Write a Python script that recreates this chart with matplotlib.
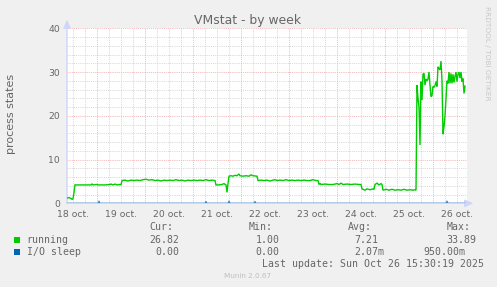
import matplotlib
matplotlib.use("Agg")
import matplotlib.pyplot as plt
from matplotlib.patches import Rectangle

# ---------------- data ----------------
title = "VMstat - by week"
ylabel = "process states"
day_labels = ["18 oct.", "19 oct.", "20 oct.", "21 oct.", "22 oct.",
              "23 oct.", "24 oct.", "25 oct.", "26 oct."]
y_ticks = [0, 10, 20, 30, 40]

# hours since 2025-10-18 00:00
hours = [9, 10, 11, 11.5, 12, 12.5, 13, 15.5, 18, 21, 21.5, 22, 24, 24.5, 28, 30.5, 31, 32, 33, 34,
         35.5, 36, 36.5, 38, 39.5, 41, 42.5, 44, 45.5, 47, 48.5, 50, 51.5, 53, 54.5, 56, 57.5, 59,
         60.5, 62, 63.5, 65, 66.5, 68, 69.5, 71, 72.5, 74, 75.5, 77, 78.5, 80, 81.5, 83, 83.5, 85,
         86.5, 87.5, 88.5, 89, 89.5, 90, 91, 92, 93, 94, 95, 95.5, 97, 98.5, 100, 101, 102, 104,
         104.5, 106, 107.5, 109, 110.5, 112, 113, 114, 115.5, 117, 118.5, 120, 121.5, 123, 124.5,
         126, 127.5, 129, 130.5, 132, 133.5, 134.5, 135, 135.5, 136, 138, 140, 142, 144, 145, 146,
         147, 149, 151, 153, 155, 156, 156.5, 158, 159, 160.5, 162, 162.5, 163, 164, 165, 166,
         166.5, 167, 168.5, 170, 171.5, 173, 174.5, 176, 177.5, 179, 180.5, 182, 183, 183.5,
         184, 184.5, 185, 185.5, 186, 186.5, 187, 187.5, 188, 188.5, 189, 189.5, 190, 190.5, 191,
         191.5, 192, 192.5, 193, 193.5, 194, 194.5, 195, 195.5, 196, 196.5, 197, 197.5, 198,
         198.5, 199, 199.5, 200, 200.5, 201, 201.5, 202, 202.5, 203, 203.5, 204, 204.5, 205,
         205.5, 206, 206.5, 207, 207.5, 208]
running = [1.2, 1.3, 1.1, 0.9, 1.0, 2.5, 4.2, 4.2, 4.2, 4.2, 4.4, 4.2, 4.3, 4.2, 4.2, 4.3, 4.4, 4.2,
           4.4, 4.2, 4.3, 4.2, 5.2, 5.3, 5.1, 5.3, 5.2, 5.3, 5.2, 5.4, 5.5, 5.3, 5.4, 5.2, 5.3, 5.1,
           5.3, 5.2, 5.3, 5.2, 5.4, 5.2, 5.3, 5.1, 5.3, 5.2, 5.3, 5.2, 5.3, 5.2, 5.4, 5.2, 5.3, 5.2,
           4.2, 4.2, 4.3, 4.5, 4.2, 2.5, 4.5, 6.2, 6.3, 6.2, 6.4, 6.3, 6.7, 6.3, 6.2, 6.3, 6.2, 6.5,
           6.3, 6.2, 5.2, 5.3, 5.2, 5.3, 5.1, 5.3, 5.4, 5.2, 5.3, 5.2, 5.4, 5.2, 5.3, 5.2, 5.3, 5.2,
           5.3, 5.2, 5.2, 5.4, 5.2, 5.2, 4.3, 4.6, 4.3, 4.4, 4.3, 4.3, 4.5, 4.3, 4.6, 4.3, 4.4, 4.3,
           4.4, 4.3, 4.3, 3.3, 3.0, 3.3, 3.1, 3.3, 3.2, 4.3, 4.6, 4.2, 4.5, 4.3, 3.0, 3.2, 3.0, 3.2,
           3.0, 3.1, 3.0, 3.2, 3.0, 3.1, 3.0, 3.1, 3.0,
           27.0, 24.0, 22.0, 13.3, 27.8, 23.6, 29.5, 29.7, 27.0, 28.4, 28.0, 28.4, 30.0, 27.0, 24.4,
           24.6, 26.7, 26.5, 26.9, 27.8, 26.7, 31.2, 30.8, 30.5, 32.5, 28.0, 15.8, 17.5, 20.0,
           24.0, 28.0, 27.4, 30.0, 27.4, 29.7, 27.4, 29.5, 27.6, 29.0, 30.0, 27.8, 29.5, 30.0,
           28.6, 30.0, 27.8, 28.5, 25.1, 26.8]

io_hours = [9, 24.5, 25, 25.5, 78, 78.5, 79, 89.5, 90, 90.5, 102.5, 103, 103.5, 198.5, 199, 199.5, 208]
io_sleep = [0, 0, 0.5, 0, 0, 0.4, 0, 0, 0.5, 0, 0, 0.4, 0, 0, 0.5, 0, 0]

series_names = ["running", "I/O sleep"]
series_colors = ["#00CC00", "#0066B3"]
col_headers = ["Cur:", "Min:", "Avg:", "Max:"]
cur_vals = ["26.82", "0.00"]
min_vals = ["1.00", "0.00"]
avg_vals = ["7.21", "2.07m"]
max_vals = ["33.89", "950.00m"]
last_update = "Last update: Sun Oct 26 15:30:19 2025"
version = "Munin 2.0.67"
side_text = "RRDTOOL / TOBI OETIKER"

# ---------------- layout ----------------
W, H, DPI = 497, 287, 100
FONT = "#666666"
fig = plt.figure(figsize=(W / DPI, H / DPI), dpi=DPI, facecolor="#F0F0F0")

x0, x1, ytop, ybot = 67, 467, 28.3, 203.3
ax = fig.add_axes([x0 / W, 1 - ybot / H, (x1 - x0) / W, (ybot - ytop) / H])
ax.set_facecolor("white")
ax.set_xlim(9, 209)
ax.set_ylim(0, 40)
for s in ax.spines.values():
    s.set_visible(False)

grid_gray = "#cfcfcf"
grid_red = "#f0a8a8"
dots = (0, (1.4, 1.4))
# minor grid
for h in range(12, 209, 6):
    if h % 24:
        ax.axvline(h, color=grid_gray, lw=0.55, ls=dots, zorder=1)
for v in range(2, 40, 2):
    if v % 10:
        ax.axhline(v, color=grid_gray, lw=0.55, ls=dots, zorder=1)
# major grid
for h in range(24, 209, 24):
    ax.axvline(h, color=grid_red, lw=0.55, ls=dots, zorder=2)
for v in (10, 20, 30, 40):
    ax.axhline(v, color=grid_red, lw=0.55, ls=dots, zorder=2)

ax.plot(hours, running, color=series_colors[0], lw=1.0, zorder=4, solid_joinstyle="miter")
ax.plot(io_hours, io_sleep, color=series_colors[1], lw=0.9, zorder=5, alpha=0.75)

ax.set_xticks([12 + 24 * i for i in range(len(day_labels))])
ax.set_xticklabels(day_labels)
ax.set_yticks(y_ticks)
ax.tick_params(axis="both", length=0, labelsize=6.7, colors=FONT)
ax.tick_params(axis="x", pad=4.5)
ax.tick_params(axis="y", pad=5)

# axes with arrows
arrow_col = "#CFD6F8"
ax.annotate("", xy=(0, 1.05), xytext=(0, 0), xycoords="axes fraction",
            arrowprops=dict(arrowstyle="-|>,head_length=0.5,head_width=0.22", color=arrow_col,
                            lw=1.0, shrinkA=0, shrinkB=0), annotation_clip=False)
ax.annotate("", xy=(1.016, 0), xytext=(0, 0), xycoords="axes fraction",
            arrowprops=dict(arrowstyle="-|>,head_length=0.5,head_width=0.22", color=arrow_col,
                            lw=1.0, shrinkA=0, shrinkB=0), annotation_clip=False, zorder=3)

def fx(px):
    return px / W

def fy(py):
    return 1 - py / H

fig.text(fx(248), fy(24), title, ha="center", va="baseline", fontsize=8.9, color=FONT)
fig.text(fx(11), fy(114), ylabel, ha="center", va="center", rotation=90, fontsize=8.0, color=FONT)
fig.text(fx(487.5), fy(53), side_text, ha="center", va="center", rotation=-90, fontsize=5.3,
         color="#c8c8c8")

mono = dict(family="DejaVu Sans Mono", fontsize=7.1, color=FONT, va="center", ha="left")
for txt, px in zip(col_headers, [149, 249, 348, 446.7]):
    fig.text(fx(px), fy(227.3), txt, **mono)
rows_y = [239.7, 251.7]
for i, name in enumerate(series_names):
    yy = rows_y[i]
    fig.patches.append(Rectangle((fx(14), fy(yy + 3)), 6 / W, 6 / H, transform=fig.transFigure,
                                 facecolor=series_colors[i], edgecolor="none"))
    fig.text(fx(26.7), fy(yy), name, **mono)
fig.text(fx(149), fy(rows_y[0]), cur_vals[0], **mono)
fig.text(fx(155.3), fy(rows_y[1]), cur_vals[1], **mono)
fig.text(fx(255.3), fy(rows_y[0]), min_vals[0], **mono)
fig.text(fx(255.3), fy(rows_y[1]), min_vals[1], **mono)
fig.text(fx(354), fy(rows_y[0]), avg_vals[0], **mono)
fig.text(fx(354), fy(rows_y[1]), avg_vals[1], **mono)
fig.text(fx(446.7), fy(rows_y[0]), max_vals[0], **mono)
fig.text(fx(423.3), fy(rows_y[1]), max_vals[1], **mono)
fig.text(fx(261.7), fy(263.7), last_update, **mono)
fig.text(fx(248), fy(276), version, ha="center", va="center", fontsize=5.2, color="#c0c0c0")

fig.savefig("out.png", dpi=DPI, facecolor=fig.get_facecolor())
